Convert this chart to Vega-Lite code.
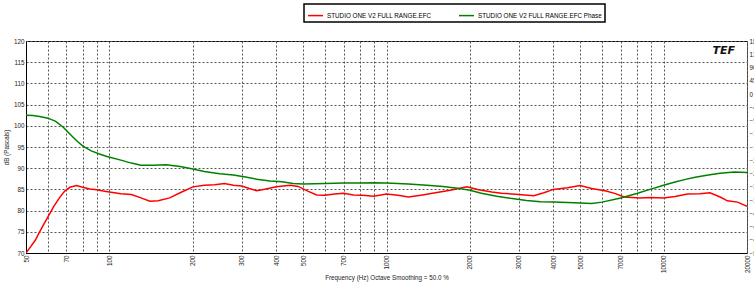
{
  "$schema": "https://vega.github.io/schema/vega-lite/v6.json",
  "width": 721,
  "height": 212,
  "autosize": {"type": "none"},
  "padding": {"left": 26, "top": 41, "right": 7, "bottom": 32},
  "background": "white",
  "title": {"text": "2707 Samples", "fontSize": 6.3, "fontWeight": "normal", "font": "Liberation Sans", "color": "#000", "offset": 4, "anchor": "middle"},
  "config": {
    "font": "Liberation Sans",
    "view": {"stroke": "#000", "strokeWidth": 1},
    "axis": {"labelFont": "Liberation Sans", "labelFontSize": 6.3, "labelColor": "#222", "titleFont": "Liberation Sans", "titleFontSize": 6.3, "titleFontWeight": "normal", "titleColor": "#222", "gridColor": "#555", "gridDash": [2, 2], "gridOpacity": 1, "gridWidth": 1, "domainColor": "#000", "ticks": false},
    "legend": {"orient": "none", "legendX": 278, "legendY": -37, "direction": "horizontal", "symbolType": "stroke", "symbolSize": 225, "symbolStrokeWidth": 1.5, "labelFontSize": 6.3, "labelFont": "Liberation Sans", "labelColor": "#000", "columnPadding": 24, "padding": 3, "strokeColor": "#000", "strokeWidth": 1.5, "labelOffset": 3, "fillColor": "white", "labelLimit": 300}
  },
  "datasets": {
    "mag": [
      {"f": 50, "db": 70.0}, {"f": 52, "db": 71.5}, {"f": 54, "db": 73.0}, {"f": 56, "db": 75.0}, {"f": 58, "db": 76.8}, {"f": 60, "db": 78.5}, {"f": 63, "db": 81.0}, {"f": 66, "db": 83.0}, {"f": 69, "db": 84.6}, {"f": 72, "db": 85.5}, {"f": 76, "db": 85.9}, {"f": 80, "db": 85.5}, {"f": 85, "db": 85.1}, {"f": 90, "db": 84.9}, {"f": 95, "db": 84.6}, {"f": 100, "db": 84.4}, {"f": 110, "db": 84.0}, {"f": 120, "db": 83.8}, {"f": 130, "db": 83.0}, {"f": 140, "db": 82.2}, {"f": 150, "db": 82.3}, {"f": 165, "db": 83.0}, {"f": 180, "db": 84.2}, {"f": 200, "db": 85.6}, {"f": 220, "db": 86.0}, {"f": 240, "db": 86.1}, {"f": 260, "db": 86.4}, {"f": 280, "db": 86.0}, {"f": 300, "db": 85.8}, {"f": 320, "db": 85.2}, {"f": 340, "db": 84.7}, {"f": 360, "db": 85.0}, {"f": 400, "db": 85.6}, {"f": 450, "db": 86.0}, {"f": 480, "db": 85.7}, {"f": 520, "db": 84.6}, {"f": 560, "db": 83.7}, {"f": 600, "db": 83.6}, {"f": 650, "db": 83.9}, {"f": 700, "db": 84.1}, {"f": 760, "db": 83.7}, {"f": 820, "db": 83.6}, {"f": 900, "db": 83.4}, {"f": 1000, "db": 83.9}, {"f": 1100, "db": 83.6}, {"f": 1200, "db": 83.2}, {"f": 1350, "db": 83.7}, {"f": 1500, "db": 84.2}, {"f": 1700, "db": 84.8}, {"f": 1950, "db": 85.6}, {"f": 2150, "db": 84.9}, {"f": 2400, "db": 84.4}, {"f": 2600, "db": 84.1}, {"f": 3000, "db": 83.8}, {"f": 3400, "db": 83.5}, {"f": 3700, "db": 84.2}, {"f": 4000, "db": 85.0}, {"f": 4500, "db": 85.4}, {"f": 5000, "db": 85.9}, {"f": 5500, "db": 85.2}, {"f": 6200, "db": 84.6}, {"f": 6700, "db": 84.0}, {"f": 7200, "db": 83.2}, {"f": 8200, "db": 83.0}, {"f": 9000, "db": 83.1}, {"f": 10000, "db": 83.0}, {"f": 11000, "db": 83.3}, {"f": 12200, "db": 83.9}, {"f": 13500, "db": 84.0}, {"f": 14700, "db": 84.2}, {"f": 16000, "db": 83.2}, {"f": 17000, "db": 82.3}, {"f": 18500, "db": 82.0}, {"f": 20000, "db": 81.0}
    ],
    "phase": [
      {"f": 50, "deg": -72.0}, {"f": 53, "deg": -73.4}, {"f": 56, "deg": -76.5}, {"f": 60, "deg": -82.0}, {"f": 64, "deg": -93.0}, {"f": 68, "deg": -112.0}, {"f": 72, "deg": -136.0}, {"f": 76, "deg": -158.0}, {"f": 80, "deg": -176.0}, {"f": 86, "deg": -193.0}, {"f": 92, "deg": -204.0}, {"f": 98, "deg": -212.0}, {"f": 110, "deg": -224.6}, {"f": 120, "deg": -234.7}, {"f": 130, "deg": -241.9}, {"f": 145, "deg": -241.9}, {"f": 160, "deg": -240.5}, {"f": 180, "deg": -246.2}, {"f": 200, "deg": -254.9}, {"f": 220, "deg": -263.5}, {"f": 250, "deg": -270.7}, {"f": 280, "deg": -275.0}, {"f": 310, "deg": -282.2}, {"f": 340, "deg": -289.4}, {"f": 380, "deg": -295.2}, {"f": 420, "deg": -298.1}, {"f": 460, "deg": -303.8}, {"f": 500, "deg": -305.3}, {"f": 600, "deg": -303.8}, {"f": 700, "deg": -302.4}, {"f": 800, "deg": -302.4}, {"f": 900, "deg": -301.0}, {"f": 1000, "deg": -302.4}, {"f": 1200, "deg": -305.3}, {"f": 1400, "deg": -309.6}, {"f": 1600, "deg": -313.9}, {"f": 1800, "deg": -319.7}, {"f": 2000, "deg": -326.9}, {"f": 2200, "deg": -337.0}, {"f": 2500, "deg": -347.0}, {"f": 2800, "deg": -354.2}, {"f": 3200, "deg": -361.4}, {"f": 3600, "deg": -365.8}, {"f": 4000, "deg": -367.2}, {"f": 4500, "deg": -368.6}, {"f": 5000, "deg": -370.1}, {"f": 5500, "deg": -371.5}, {"f": 6000, "deg": -367.2}, {"f": 7000, "deg": -353.0}, {"f": 8000, "deg": -338.0}, {"f": 9000, "deg": -323.0}, {"f": 10000, "deg": -310.0}, {"f": 11000, "deg": -299.0}, {"f": 12000, "deg": -290.0}, {"f": 13000, "deg": -283.0}, {"f": 14500, "deg": -275.0}, {"f": 16000, "deg": -269.3}, {"f": 18000, "deg": -265.0}, {"f": 20000, "deg": -266.4}
    ],
    "logo": [{"f": 16500, "db": 117.6, "label": "TEF"}]
  },
  "layer": [
    {
      "data": {"name": "mag"},
      "transform": [{"calculate": "'STUDIO ONE V2 FULL RANGE.EFC'", "as": "series"}],
      "mark": {"type": "line", "strokeWidth": 1.5, "clip": true},
      "encoding": {
        "x": {"field": "f", "type": "quantitative", "scale": {"type": "log", "domain": [50, 20000], "nice": false, "zero": false},
          "axis": {"title": "Frequency (Hz) Octave Smoothing = 50.0 %", "values": [50, 60, 70, 80, 90, 100, 200, 300, 400, 500, 600, 700, 800, 900, 1000, 2000, 3000, 4000, 5000, 6000, 7000, 8000, 9000, 10000, 20000],
            "labelExpr": "indexof([50,70,100,200,300,400,500,700,1000,2000,3000,4000,5000,7000,10000,20000], datum.value) >= 0 ? '' + datum.value : ''",
            "labelAngle": -90, "labelAlign": "right", "labelBaseline": "middle", "labelPadding": 2, "labelOverlap": false, "labelFlush": false, "grid": true, "titlePadding": 2}},
        "y": {"field": "db", "type": "quantitative", "scale": {"domain": [70, 120], "nice": false, "zero": false},
          "axis": {"title": "dB (Pascals)", "values": [70, 75, 80, 85, 90, 95, 100, 105, 110, 115, 120], "grid": true, "labelPadding": 2, "titlePadding": 4, "labelOverlap": false, "labelFlush": false}},
        "color": {"field": "series", "type": "nominal", "scale": {"domain": ["STUDIO ONE V2 FULL RANGE.EFC", "STUDIO ONE V2 FULL RANGE.EFC Phase"], "range": ["#ff0000", "#008000"]}, "legend": {"title": null}}
      }
    },
    {
      "data": {"name": "logo"},
      "mark": {"type": "text", "font": "DejaVu Sans", "fontStyle": "italic", "fontWeight": "bold", "fontSize": 11, "color": "#111", "align": "center", "baseline": "middle"},
      "encoding": {
        "x": {"field": "f", "type": "quantitative", "scale": {"type": "log", "domain": [50, 20000], "nice": false, "zero": false}},
        "y": {"field": "db", "type": "quantitative", "scale": {"domain": [70, 120], "nice": false, "zero": false}, "axis": null},
        "text": {"field": "label"}
      }
    },
    {
      "data": {"name": "phase"},
      "transform": [{"calculate": "'STUDIO ONE V2 FULL RANGE.EFC Phase'", "as": "series"}],
      "mark": {"type": "line", "strokeWidth": 1.5, "clip": true},
      "encoding": {
        "x": {"field": "f", "type": "quantitative", "scale": {"type": "log", "domain": [50, 20000], "nice": false, "zero": false}},
        "y": {"field": "deg", "type": "quantitative", "scale": {"domain": [-540, 180], "nice": false, "zero": false},
          "axis": {"orient": "right", "title": null, "values": [180, 135, 90, 45, 0, -45, -90, -135, -180, -225, -270, -315, -360, -405, -450, -495, -540], "grid": false, "labelPadding": 2, "domainColor": "#777", "domainDash": [1, 1], "labelOverlap": false, "labelFlush": false}},
        "color": {"field": "series", "type": "nominal"}
      }
    }
  ],
  "resolve": {"scale": {"y": "independent"}}
}
